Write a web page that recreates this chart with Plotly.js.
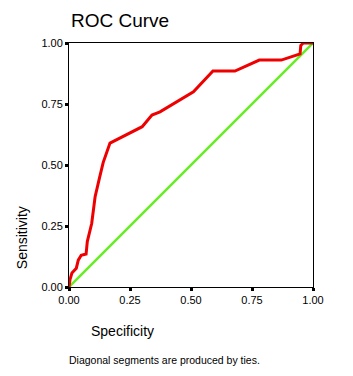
<!DOCTYPE html>
<html>
<head>
<meta charset="utf-8">
<script src="https://cdn.plot.ly/plotly-3.0.1.min.js"></script>
<style>html,body{margin:0;padding:0;background:#fff;}#chart{width:353px;height:376px;}</style>
</head>
<body>
<div id="chart"></div>
<script>
var specificity = [0, 0.004, 0.012, 0.03, 0.038, 0.05, 0.07, 0.075, 0.093, 0.107, 0.125, 0.14, 0.168, 0.22, 0.30, 0.34, 0.373, 0.51, 0.59, 0.68, 0.78, 0.87, 0.947, 0.95, 0.96, 1.0];
var sensitivity = [0, 0.03, 0.057, 0.077, 0.11, 0.13, 0.135, 0.186, 0.26, 0.37, 0.447, 0.51, 0.59, 0.617, 0.657, 0.705, 0.718, 0.80, 0.885, 0.885, 0.93, 0.93, 0.955, 0.99, 1.0, 1.0];
var refX = [0, 1];
var refY = [0, 1];
var tickVals = [0, 0.25, 0.5, 0.75, 1];
var tickText = ["0.00", "0.25", "0.50", "0.75", "1.00"];

var traces = [
  {x: refX, y: refY, mode: 'lines', line: {color: '#66ee22', width: 2.5}, cliponaxis: false, hoverinfo: 'skip'},
  {x: specificity, y: sensitivity, mode: 'lines', line: {color: '#ee0000', width: 3}, cliponaxis: false}
];
var axisCommon = {
  range: [0, 1], tickvals: tickVals, ticktext: tickText,
  ticks: 'outside', ticklen: 3, tickwidth: 3, tickcolor: '#000',
  showline: true, linecolor: '#000', linewidth: 1, mirror: true,
  showgrid: false, zeroline: false, fixedrange: true,
  tickfont: {family: 'Liberation Sans, Arial, sans-serif', size: 11, color: '#000'}
};
var layout = {
  width: 353, height: 376,
  margin: {l: 69, r: 40, t: 43, b: 89},
  paper_bgcolor: '#fff', plot_bgcolor: '#fff',
  showlegend: false,
  font: {family: 'Liberation Sans, Arial, sans-serif', color: '#000'},
  xaxis: Object.assign({}, axisCommon),
  yaxis: Object.assign({}, axisCommon),
  annotations: [
    {text: 'ROC Curve', xref: 'paper', yref: 'paper', x: 0, y: 1, xanchor: 'left', yanchor: 'bottom', yshift: 10, showarrow: false, font: {size: 19, color: '#000'}},
    {text: 'Sensitivity', xref: 'paper', yref: 'paper', x: 0, y: 0.2, xanchor: 'center', yanchor: 'middle', xshift: -47, textangle: -90, showarrow: false, font: {size: 14, color: '#000'}},
    {text: 'Specificity', xref: 'paper', yref: 'paper', x: 0.08, y: 0, xanchor: 'left', yanchor: 'top', yshift: -34, showarrow: false, font: {size: 14, color: '#000'}},
    {text: 'Diagonal segments are produced by ties.', xref: 'paper', yref: 'paper', x: 0, y: 0, xanchor: 'left', yanchor: 'top', xshift: -2, yshift: -65, showarrow: false, font: {size: 10.5, color: '#000'}}
  ]
};
Plotly.newPlot('chart', traces, layout, {displayModeBar: false, staticPlot: true});
</script>
</body>
</html>
